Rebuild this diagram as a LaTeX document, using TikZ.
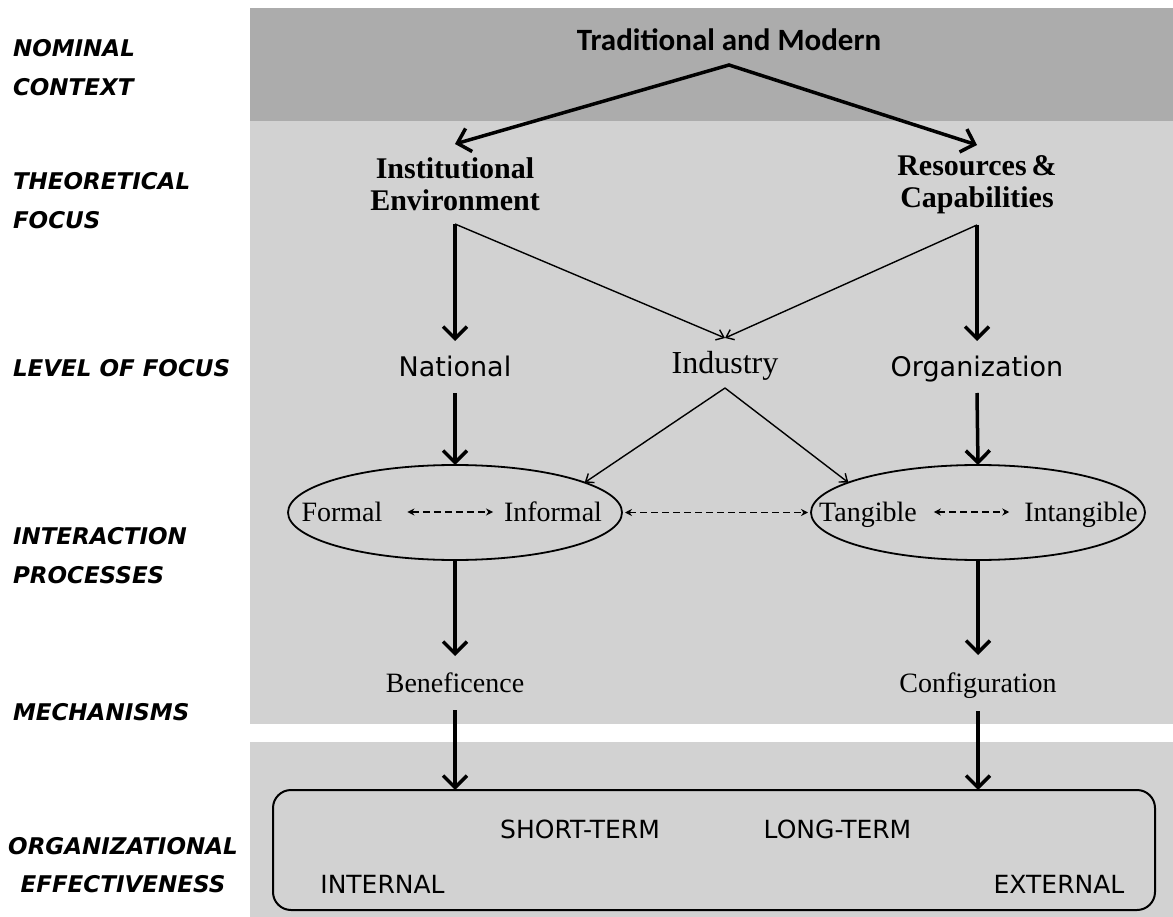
\documentclass[tikz,border=0pt]{standalone}
\usepackage{fontspec}
\setmainfont{Liberation Serif}
\newfontfamily\lblfont{DejaVu Sans}[BoldFont={DejaVu Sans Bold},ItalicFont={DejaVu Sans Oblique},BoldItalicFont={DejaVu Sans Bold Oblique}]
\newfontfamily\dvs{DejaVu Sans}
\newfontfamily\carl{Carlito}
\usetikzlibrary{arrows.meta,shapes.geometric}
\definecolor{darkband}{RGB}{172,172,172}
\definecolor{lightband}{RGB}{210,210,210}
\begin{document}
\begin{tikzpicture}[x=1pt,y=-1pt,
  every node/.style={inner sep=0pt,outer sep=0pt},
  lbl/.style={font=\lblfont\bfseries\itshape\fontsize{23}{39}\selectfont,align=left,anchor=west},
  lblc/.style={font=\lblfont\bfseries\itshape\fontsize{23}{38}\selectfont,align=center},
  titlet/.style={font=\carl\bfseries\fontsize{31}{36}\selectfont,minimum height=50pt},
  bser/.style={font=\bfseries\fontsize{30}{32}\selectfont,align=center,minimum height=80pt},
  sans/.style={font=\dvs\fontsize{27}{32}\selectfont,text height=20pt,text depth=0pt,minimum height=52pt},
  ser/.style={font=\fontsize{28}{33}\selectfont,text height=19pt,text depth=0pt},
  serbig/.style={font=\fontsize{32}{37}\selectfont,text height=21pt,text depth=0pt,minimum height=50pt},
  boxt/.style={font=\dvs\fontsize{25}{30}\selectfont,text height=18pt,text depth=0pt},
  ell/.style={ellipse,draw,line width=1.8pt,minimum width=334pt,minimum height=95pt},
  thickarr/.style={line width=3.5pt,-{Straight Barb[length=12pt,width=24pt]}},
  thinarr/.style={line width=1.4pt,-{Straight Barb[length=7pt,width=11pt]}},
  dasharr/.style={line width=1.6pt,dash pattern=on 7pt off 4pt,{Stealth[length=7pt,width=7pt]}-{Stealth[length=7pt,width=7pt]}}
]
\useasboundingbox (0,0) rectangle (1173,917);
% bands
\fill[darkband] (250,8) rectangle (1173,121);
\fill[lightband] (250,121) rectangle (1173,724);
\fill[lightband] (250,742) rectangle (1173,917);

% left labels
\node[lbl] (lnom) at (13,67.5) {NOMINAL\\CONTEXT};
\node[lbl] (ltheo) at (13,200.5) {THEORETICAL\\FOCUS};
\node[lbl] (llevel) at (13,368) {LEVEL OF FOCUS};
\node[lbl] (linter) at (13,555.5) {INTERACTION\\PROCESSES};
\node[lbl] (lmech) at (13,712) {MECHANISMS};
\node[lblc] (lorg) at (123,865) {ORGANIZATIONAL\\EFFECTIVENESS};

% main nodes
\node[titlet] (title) at (729,40) {Traditional and Modern};
\node[bser] (inst) at (455,184) {Institutional\\Environment};
\node[bser] (res) at (977,185) {Resources\,\&\\Capabilities};
\node[sans] (nat) at (455,367) {National};
\node[serbig] (ind) at (725,363) {Industry};
\node[sans] (org) at (977,367) {Organization};

\node[ell] (ellL) at (455,512.5) {};
\node[ell] (ellR) at (978,512.5) {};
\node[ser] (formal) at (342,512) {Formal};
\node[ser] (informal) at (553,512) {Informal};
\node[ser] (tangible) at (868,512) {Tangible};
\node[ser] (intangible) at (1081,512) {Intangible};

\node[ser,minimum height=54pt] (ben) at (455,683) {Beneficence};
\node[ser,minimum height=56pt] (conf) at (978,683) {Configuration};

\node[draw,line width=2pt,rounded corners=18pt,minimum width=882pt,minimum height=120pt] (eff) at (714,850) {};
\node[boxt] (short) at (580,829) {SHORT-TERM};
\node[boxt] (long) at (837.5,829) {LONG-TERM};
\node[boxt] (internal) at (382.5,884) {INTERNAL};
\node[boxt] (external) at (1059,884) {EXTERNAL};

% connectors
\draw[line width=3.5pt,{Straight Barb[length=12pt,width=24pt]}-{Straight Barb[length=12pt,width=24pt]}] (inst.north) -- (title.south) -- (res.north);
\draw[thickarr] (inst.south) -- (nat.north);
\draw[thinarr] (inst.south) -- (ind.north);
\draw[thickarr] (res.south) -- (org.north);
\draw[thinarr] (res.south) -- (ind.north);
\draw[thickarr] (nat.south) -- (ellL.north);
\draw[thickarr] (org.south) -- (ellR.north);
\draw[thinarr] (ind.south) -- (ellL.13);
\draw[thinarr] (ind.south) -- (ellR.167);
\draw[dasharr,shorten <=25pt,shorten >=11pt] (formal.east) -- (informal.west);
\draw[dasharr,shorten <=3pt,shorten >=3pt] (ellL.east) -- (ellR.west);
\draw[dasharr,shorten <=17pt,shorten >=15pt] (tangible.east) -- (intangible.west);
\draw[thickarr] (ellL.south) -- (ben.north);
\draw[thickarr] (ellR.south) -- (conf.north);
\draw[thickarr] (ben.south) -- (ben.south |- eff.north);
\draw[thickarr] (conf.south) -- (conf.south |- eff.north);
\end{tikzpicture}
\end{document}
